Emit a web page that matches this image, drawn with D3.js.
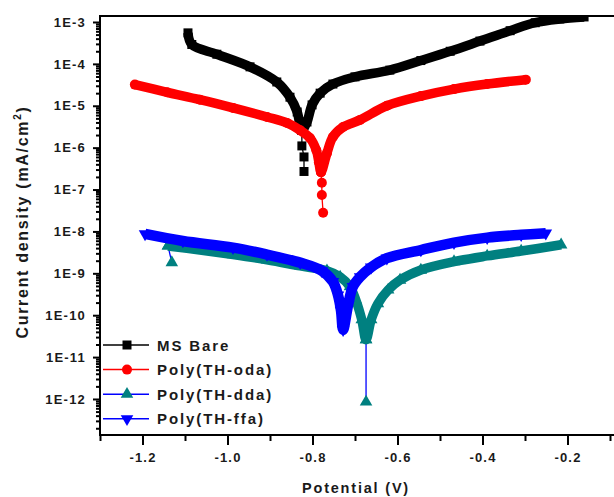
<!DOCTYPE html>
<html>
<head>
<meta charset="utf-8">
<script src="https://cdn.jsdelivr.net/npm/d3@7"></script>
<style>
body { margin: 0; background: #fff; }
text { font-family: "Liberation Sans", Arial, sans-serif; font-weight: bold; fill: #1a1a1a; }
</style>
</head>
<body>
<svg id="chart" width="614" height="497"></svg>
<script>
// Tafel curves: potential (V) / current density (mA/cm2)

// MS Bare
const bareV = [-1.093, -1.084, -1.025, -0.947, -0.884, -0.853, -0.836, -0.825,
    -0.813, -0.801, -0.782, -0.752, -0.700, -0.618, -0.545, -0.476, -0.406, -0.335, -0.276, -0.218, -0.161];
const bareI = [5.5e-4, 2.9e-4, 1.7e-4, 8.5e-5, 3.7e-5, 1.6e-5, 7.1e-6, 2.6e-6,
    4.1e-6, 1.05e-5, 2.0e-5, 3.3e-5, 4.9e-5, 7.1e-5, 1.2e-4, 2.0e-4, 3.5e-4, 6.2e-4, 9.6e-4, 1.18e-3, 1.32e-3];
const bareTailV = [-0.825, -0.825, -0.820, -0.820];
const bareTailI = [2.6e-6, 1.1e-6, 6.0e-7, 2.7e-7];

// Poly(TH-oda)
const odaV = [-1.218, -1.142, -1.065, -0.987, -0.907, -0.860, -0.829, -0.806, -0.791, -0.785, -0.780,
    -0.766, -0.752, -0.728, -0.688, -0.625, -0.545, -0.467, -0.389, -0.298];
const odaI = [3.2e-5, 2.1e-5, 1.4e-5, 8.9e-6, 5.4e-6, 3.9e-6, 2.6e-6, 1.7e-6, 8.7e-7, 4.5e-7, 2.6e-7,
    7.4e-7, 1.8e-6, 3.1e-6, 4.6e-6, 1.0e-5, 1.7e-5, 2.5e-5, 3.3e-5, 4.2e-5];
const odaTailV = [-0.780, -0.778, -0.778, -0.775];
const odaTailI = [2.6e-7, 1.45e-7, 7.4e-8, 2.8e-8];

// Poly(TH-dda)
const ddaV = [-1.140, -1.065, -0.987, -0.907, -0.829, -0.766, -0.735, -0.712, -0.698, -0.684, -0.674,
    -0.662, -0.646, -0.622, -0.594, -0.545, -0.467, -0.389, -0.309, -0.215];
const ddaI = [4.5e-9, 3.6e-9, 2.8e-9, 2.1e-9, 1.5e-9, 1.15e-9, 8.2e-10, 4.8e-10, 2.3e-10, 7.8e-11, 2.6e-11,
    7.8e-11, 1.9e-10, 4.0e-10, 6.9e-10, 1.2e-9, 1.9e-9, 2.6e-9, 3.4e-9, 4.8e-9];
const ddaTailLeftV = [-1.131, -1.140];
const ddaTailLeftI = [1.8e-9, 4.5e-9];
const ddaTailLowV = [-0.674, -0.674];
const ddaTailLowI = [2.6e-11, 8.5e-13];

// Poly(TH-ffa)
const ffaV = [-1.194, -1.105, -0.987, -0.907, -0.829, -0.778, -0.752, -0.740, -0.733, -0.728,
    -0.716, -0.705, -0.688, -0.662, -0.625, -0.545, -0.467, -0.389, -0.309, -0.251];
const ffaI = [8.7e-9, 5.9e-9, 4.1e-9, 2.8e-9, 1.8e-9, 1.15e-9, 6.3e-10, 3.0e-10, 1.3e-10, 4.5e-11,
    1.8e-10, 4.8e-10, 8.2e-10, 1.4e-9, 2.3e-9, 3.6e-9, 5.4e-9, 7.1e-9, 8.3e-9, 9.1e-9];

const seriesNames = ["MS Bare", "Poly(TH-oda)", "Poly(TH-dda)", "Poly(TH-ffa)"];
const xTicks = [-1.2, -1.0, -0.8, -0.6, -0.4, -0.2];
const xMinor = [-1.3, -1.1, -0.9, -0.7, -0.5, -0.3, -0.1];
const yTickExp = [-3, -4, -5, -6, -7, -8, -9, -10, -11, -12];

const zip = (v, i) => v.map((d, k) => [d, i[k]]);

const series = [
    { name: seriesNames[0], pts: zip(bareV, bareI), tails: [zip(bareTailV, bareTailI)],
      color: "#000000", line: "#000000", shape: "square" },
    { name: seriesNames[1], pts: zip(odaV, odaI), tails: [zip(odaTailV, odaTailI)],
      color: "#ff0000", line: "#ff0000", shape: "circle" },
    { name: seriesNames[2], pts: zip(ddaV, ddaI),
      tails: [zip(ddaTailLeftV, ddaTailLeftI), zip(ddaTailLowV, ddaTailLowI)],
      color: "#008080", line: "#0000ff", shape: "up" },
    { name: seriesNames[3], pts: zip(ffaV, ffaI), tails: [],
      color: "#0000ff", line: "#0000ff", shape: "down" }
];

const svg = d3.select("#chart");
const mLeft = 100, mTop = 16, mBottom = 435;

const x = d3.scaleLinear().domain([-1.3, -0.05]).range([mLeft, mLeft + 1.25 * 425]);
const y = d3.scaleLog().domain([Math.pow(10, -12.86), Math.pow(10, -2.857)]).range([mBottom, mTop]);

svg.append("defs").append("clipPath").attr("id", "plot")
    .append("rect").attr("x", mLeft).attr("y", mTop).attr("width", 614 - mLeft).attr("height", mBottom - mTop);

function marker(shape, sz) {
    if (shape == "square") return d3.symbol(d3.symbolSquare, sz * sz)();
    if (shape == "circle") return d3.symbol(d3.symbolCircle, Math.PI * sz * sz / 4)();
    return d3.symbol(d3.symbolTriangle, Math.sqrt(3) / 4 * sz * sz * 1.1)();
}

const band = d3.line().x(d => x(d[0])).y(d => y(d[1])).curve(d3.curveCatmullRom.alpha(0.5));
const thin = d3.line().x(d => x(d[0])).y(d => y(d[1]));

const plot = svg.append("g").attr("clip-path", "url(#plot)");

series.forEach(s => {
    let g = plot.append("g");
    s.tails.forEach(t => {
        g.append("path").attr("d", thin(t)).attr("fill", "none")
            .attr("stroke", s.line).attr("stroke-width", 1.3);
    });
    g.append("path").attr("d", band(s.pts)).attr("fill", "none")
        .attr("stroke", s.color).attr("stroke-width", s.shape == "down" ? 10.5 : 9.5)
        .attr("stroke-linejoin", "round");
    let all = s.pts.concat(...s.tails);
    g.selectAll("path.m").data(all).enter().append("path")
        .attr("class", "m")
        .attr("d", marker(s.shape, s.shape == "square" ? 9 : s.shape == "circle" ? 10 : 12))
        .attr("fill", s.color)
        .attr("transform", d => "translate(" + x(d[0]) + "," + y(d[1]) + ")" + (s.shape == "down" ? " rotate(180)" : ""));
});

// axes
const yMinor = [];
yTickExp.concat([-13]).forEach(e => {
    for (let m = 2; m <= 9; m++) {
        let v = m * Math.pow(10, e);
        if (v > y.domain()[0] && v < y.domain()[1]) yMinor.push(v);
    }
});

function styleAxis(g) {
    g.select(".domain").remove();
    g.selectAll("line").attr("stroke", "#000").attr("stroke-width", 2);
    g.selectAll("text").attr("font-size", 13).attr("letter-spacing", "1.2px").attr("fill", "#1a1a1a")
        .attr("font-family", "Liberation Sans, Arial, sans-serif").attr("font-weight", "bold");
}

svg.append("g").attr("transform", "translate(" + mLeft + ",0)")
    .call(d3.axisLeft(y).tickValues(yMinor).tickSize(4).tickFormat(""))
    .call(styleAxis);
svg.append("g").attr("transform", "translate(" + mLeft + ",0)")
    .call(d3.axisLeft(y).tickValues(yTickExp.map(e => Math.pow(10, e))).tickSize(7).tickPadding(7)
        .tickFormat(d => "1E" + Math.round(Math.log10(d))))
    .call(styleAxis);

svg.append("g").attr("transform", "translate(0," + mBottom + ")")
    .call(d3.axisBottom(x).tickValues(xMinor).tickSize(6).tickFormat(""))
    .call(styleAxis);
svg.append("g").attr("transform", "translate(0," + mBottom + ")")
    .call(d3.axisBottom(x).tickValues(xTicks).tickSize(10).tickPadding(8).tickFormat(d => d.toFixed(1)))
    .call(styleAxis);

// frame
svg.append("path")
    .attr("d", "M614," + mTop + "H" + mLeft + "V" + mBottom + "H614")
    .attr("fill", "none").attr("stroke", "#000").attr("stroke-width", 2);

// titles
svg.append("text").attr("x", 356).attr("y", 493).attr("text-anchor", "middle")
    .attr("font-size", 14.5).attr("letter-spacing", "1.8px").text("Potential (V)");

const yt = svg.append("text").attr("transform", "translate(28,222) rotate(-90)")
    .attr("text-anchor", "middle").attr("font-size", 16).attr("letter-spacing", "1.7px");
yt.append("tspan").text("Current density (mA/cm");
yt.append("tspan").attr("font-size", 10).attr("dy", -7).text("2");
yt.append("tspan").attr("dy", 7).text(")");

// legend
const leg = svg.append("g");
series.forEach((s, k) => {
    let cy = 345 + k * 24.6;
    leg.append("line").attr("x1", 103).attr("x2", 149).attr("y1", cy).attr("y2", cy)
        .attr("stroke", s.line).attr("stroke-width", 1.5);
    leg.append("path").attr("d", marker(s.shape, s.shape == "square" ? 9 : s.shape == "circle" ? 10 : 12))
        .attr("fill", s.color)
        .attr("transform", "translate(127," + cy + ")" + (s.shape == "down" ? " rotate(180)" : ""));
    leg.append("text").attr("x", 157).attr("y", cy + 5.5).attr("font-size", 15)
        .attr("letter-spacing", "1.9px").text(s.name);
});
</script>
</body>
</html>
